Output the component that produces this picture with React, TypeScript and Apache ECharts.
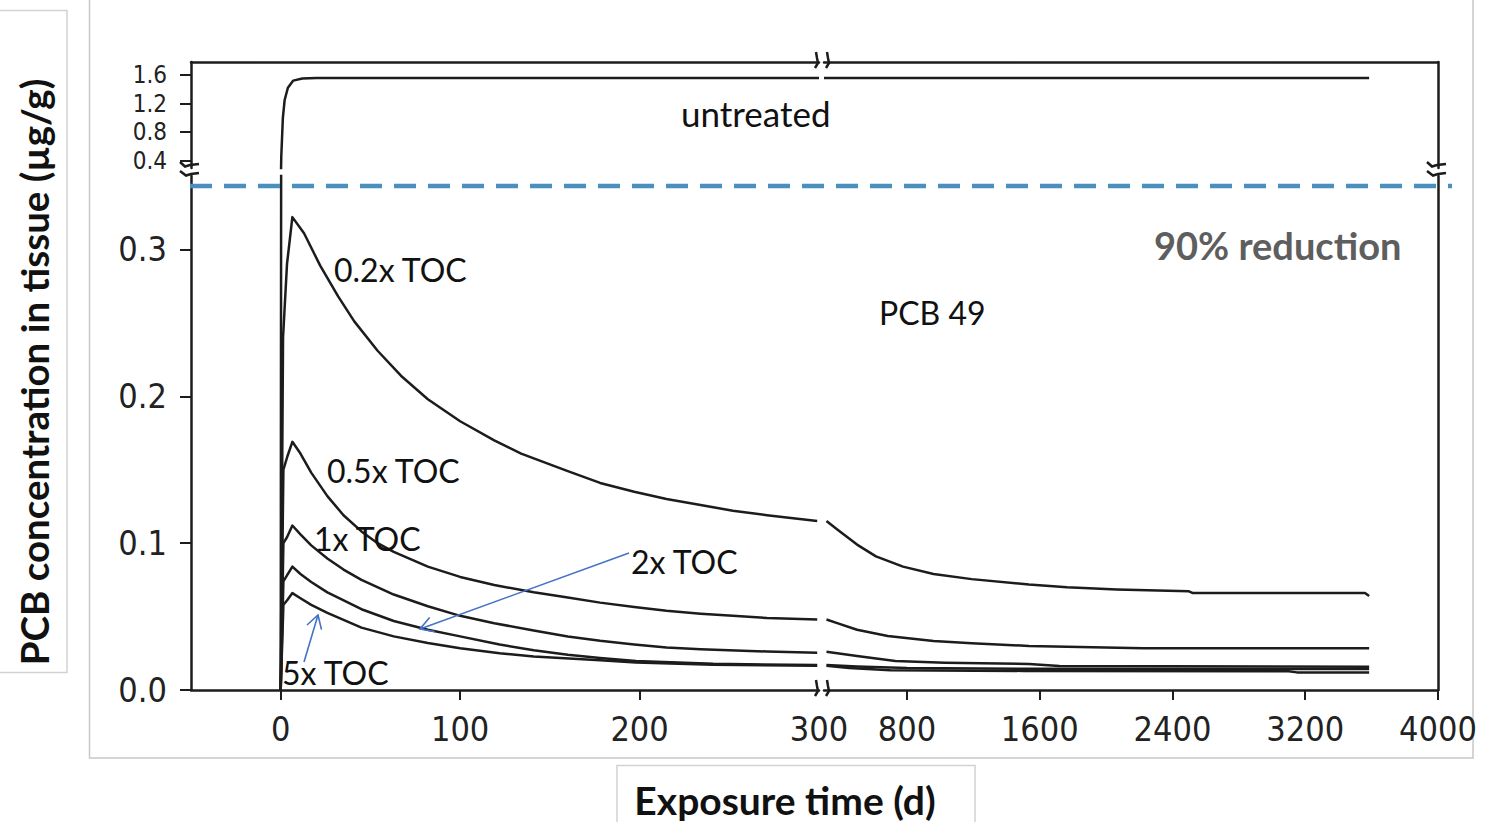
import React, { useEffect, useRef } from "react";
import * as echarts from "echarts";

// ---- tick values ----
const xLeftTicks = [0, 100, 200];
const xLeftLabels = [0, 100, 200, 300];
const xRightTicks = [800, 1600, 2400, 3200, 4000];
const yLowTicks = [0, 0.1, 0.2, 0.3];
const yHighTicks = [0.4, 0.8, 1.2, 1.6];

// ---- series values [time (d), concentration (µg/g)] ----
const untreatedEarly = [
  [0, 0], [0.3, 0.45], [1.2, 1.0], [2.2, 1.25], [4, 1.42], [7, 1.52], [12, 1.55], [20, 1.557], [300, 1.557],
];
const untreatedLate = [[300, 1.557], [3585, 1.557]];

const toc02Early = [
  [0, 0], [1.3, 0.24], [3.5, 0.29], [6.5, 0.322], [13, 0.311], [22, 0.289], [32, 0.268], [41, 0.251],
  [54, 0.231], [67, 0.214], [82, 0.198], [100, 0.183], [119, 0.17], [134, 0.161], [160, 0.149],
  [178, 0.141], [197, 0.135], [215, 0.13], [234, 0.126], [252, 0.122], [271, 0.119], [299, 0.115],
];
const toc02Late = [
  [315, 0.115], [384, 0.109], [499, 0.099], [613, 0.091], [776, 0.084], [960, 0.079], [1190, 0.0755],
  [1535, 0.0718], [1764, 0.07], [2064, 0.0685], [2499, 0.0672], [2523, 0.066], [3560, 0.066], [3585, 0.064],
];

const toc05Early = [
  [0, 0], [1.5, 0.15], [3.7, 0.159], [6.5, 0.169], [11, 0.161], [17, 0.148], [26, 0.132], [35, 0.119],
  [45, 0.108], [54, 0.1], [63, 0.094], [82, 0.084], [100, 0.077], [119, 0.0715], [141, 0.0665],
  [160, 0.063], [178, 0.0595], [197, 0.0565], [215, 0.054], [234, 0.052], [252, 0.0505], [271, 0.049], [299, 0.048],
];
const toc05Late = [
  [315, 0.048], [384, 0.0454], [499, 0.041], [684, 0.0368], [960, 0.0334], [1190, 0.0318],
  [1535, 0.03], [2225, 0.0284], [3585, 0.0284],
];

const toc1Early = [
  [0, 0], [1.5, 0.1], [3.5, 0.104], [6.5, 0.112], [11, 0.106], [17, 0.0985], [26, 0.0895], [35, 0.082],
  [45, 0.075], [63, 0.065], [82, 0.057], [100, 0.0505], [119, 0.0455], [141, 0.0405], [160, 0.0365],
  [178, 0.0335], [197, 0.031], [215, 0.029], [234, 0.0278], [271, 0.0262], [299, 0.0254],
];
const toc1Late = [
  [315, 0.026], [499, 0.0232], [730, 0.0197], [1029, 0.0186], [1535, 0.0177], [1719, 0.0163], [3585, 0.0159],
];

const toc2Early = [
  [0, 0], [1.5, 0.074], [3.5, 0.078], [6.5, 0.084], [11, 0.079], [17, 0.0735], [26, 0.0665], [45, 0.055],
  [63, 0.047], [82, 0.041], [100, 0.0365], [122, 0.031], [141, 0.027], [160, 0.024], [178, 0.0218],
  [198, 0.0197], [241, 0.0178], [299, 0.017],
];
const toc2Late = [[315, 0.017], [500, 0.016], [800, 0.015], [1500, 0.0145], [3585, 0.0143]];

const toc5Early = [
  [0, 0], [1.5, 0.058], [3.5, 0.061], [6.5, 0.066], [11, 0.0625], [17, 0.058], [26, 0.0525], [45, 0.0425],
  [63, 0.0365], [82, 0.032], [100, 0.0285], [122, 0.025], [141, 0.0228], [178, 0.0203], [198, 0.0188],
  [241, 0.0172], [299, 0.0165],
];
const toc5Late = [
  [315, 0.0165], [450, 0.015], [700, 0.0135], [1500, 0.013], [3100, 0.0128], [3150, 0.012], [3585, 0.012],
];

const INK = "#1c1c1c";
const NARROW = "'Liberation Sans Narrow','Arial Narrow','DejaVu Sans Condensed',sans-serif";
const LATO = "Lato, 'Open Sans', sans-serif";

export default function App() {
  const ref = useRef<HTMLDivElement>(null);

  useEffect(() => {
    if (!ref.current) return;
    const chart = echarts.init(ref.current, null, { renderer: "svg" });
    const axisLine = { show: true, onZero: false, lineStyle: { color: INK, width: 2.5 } };
    const tickStyle = { color: INK, width: 2 };
    const lowLabel = { fontFamily: NARROW, fontSize: 34, color: "#222" };

    const grids = [
      { left: 191, top: 176, width: 628, height: 514 }, // left lower
      { left: 824, top: 176, width: 614, height: 514 }, // right lower
      { left: 191, top: 62, width: 628, height: 106 }, // left upper
      { left: 824, top: 62, width: 614, height: 106 }, // right upper
    ];

    const line = (data: number[][], idx: number) => ({
      type: "line",
      data,
      xAxisIndex: idx,
      yAxisIndex: idx,
      showSymbol: false,
      symbol: "none",
      smooth: false,
      clip: true,
      lineStyle: { color: INK, width: 2.5, join: "round" },
      silent: true,
    });

    const breakV = (x: number) => [
      { type: "polyline", shape: { points: [[x - 11, 162], [x - 6, 166.5], [x - 1, 165], [x + 8, 164]] }, style: { stroke: INK, lineWidth: 2.5, fill: null } },
      { type: "polyline", shape: { points: [[x - 11, 171], [x - 5, 175.5], [x, 174], [x + 8, 173]] }, style: { stroke: INK, lineWidth: 2.5, fill: null } },
    ];
    const breakH = (y: number) => [
      { type: "polyline", shape: { points: [[816, y - 10], [817, y - 4], [818, y + 1], [815, y + 6]] }, style: { stroke: INK, lineWidth: 2.5, fill: null } },
      { type: "polyline", shape: { points: [[827, y - 10], [828, y - 4], [829, y + 1], [826, y + 6]] }, style: { stroke: INK, lineWidth: 2.5, fill: null } },
    ];

    const textEl = (x: number, y: number, text: string, size: number, extra: any = {}) => ({
      type: "text",
      x,
      y,
      z: 20,
      style: {
        text,
        fontFamily: LATO,
        fontSize: size,
        fill: "#111",
        textAlign: "left",
        textVerticalAlign: "middle",
        ...extra,
      },
    });

    const option: any = {
      animation: false,
      backgroundColor: "#ffffff",
      grid: grids,
      xAxis: [
        {
          type: "value", gridIndex: 0, min: -50, max: 300, position: "bottom",
          axisLine, axisTick: { show: true, length: 10, customValues: xLeftTicks, lineStyle: tickStyle },
          axisLabel: { customValues: xLeftLabels, margin: 22, showMinLabel: true, showMaxLabel: true, ...lowLabel, formatter: (v: number) => String(v) },
          splitLine: { show: false },
        },
        {
          type: "value", gridIndex: 1, min: 300, max: 4000, position: "bottom",
          axisLine, axisTick: { show: true, length: 10, customValues: xRightTicks, lineStyle: tickStyle },
          axisLabel: { customValues: xRightTicks, margin: 22, showMinLabel: true, showMaxLabel: true, ...lowLabel, formatter: (v: number) => String(v) },
          splitLine: { show: false },
        },
        {
          type: "value", gridIndex: 2, min: -50, max: 300, position: "top",
          axisLine, axisTick: { show: false }, axisLabel: { show: false }, splitLine: { show: false },
        },
        {
          type: "value", gridIndex: 3, min: 300, max: 4000, position: "top",
          axisLine, axisTick: { show: false }, axisLabel: { show: false }, splitLine: { show: false },
        },
      ],
      yAxis: [
        {
          type: "value", gridIndex: 0, min: 0, max: 0.35, position: "left",
          axisLine, axisTick: { show: true, length: 11, customValues: yLowTicks, lineStyle: tickStyle },
          axisLabel: { customValues: yLowTicks, margin: 24, showMinLabel: true, showMaxLabel: true, ...lowLabel, formatter: (v: number) => v.toFixed(1) },
          splitLine: { show: false },
        },
        {
          type: "value", gridIndex: 1, min: 0, max: 0.35, position: "right",
          axisLine, axisTick: { show: false }, axisLabel: { show: false }, splitLine: { show: false },
        },
        {
          type: "value", gridIndex: 2, min: 0.3, max: 1.78, position: "left",
          axisLine, axisTick: { show: true, length: 11, customValues: yHighTicks, lineStyle: tickStyle },
          axisLabel: {
            customValues: yHighTicks, margin: 24, showMinLabel: true, showMaxLabel: true, hideOverlap: false,
            fontFamily: NARROW, fontSize: 24, lineHeight: 24, color: "#222", formatter: (v: number) => v.toFixed(1),
          },
          splitLine: { show: false },
        },
        {
          type: "value", gridIndex: 3, min: 0.3, max: 1.78, position: "right",
          axisLine, axisTick: { show: false }, axisLabel: { show: false }, splitLine: { show: false },
        },
      ],
      series: [
        line(untreatedEarly, 0),
        line(untreatedEarly, 2),
        line(untreatedLate, 3),
        line(toc02Early, 0),
        line(toc02Late, 1),
        line(toc05Early, 0),
        line(toc05Late, 1),
        line(toc1Early, 0),
        line(toc1Late, 1),
        line(toc2Early, 0),
        line(toc2Late, 1),
        line(toc5Early, 0),
        line(toc5Late, 1),
      ],
      graphic: [
        // outer panel border
        { type: "rect", z: 0, shape: { x: 89.5, y: -5, width: 1383.5, height: 763 }, style: { fill: null, stroke: "#c8c8c8", lineWidth: 1.5 } },
        // y title box
        { type: "rect", z: 0, shape: { x: -2, y: 10.5, width: 69, height: 662 }, style: { fill: "#fff", stroke: "#d2d2d2", lineWidth: 1.5 } },
        // x title box
        { type: "rect", z: 0, shape: { x: 617, y: 765.5, width: 358, height: 70 }, style: { fill: "#fff", stroke: "#d2d2d2", lineWidth: 1.5 } },
        // axis break marks
        ...breakV(191),
        ...breakV(1438),
        ...breakH(690),
        ...breakH(62),
        // 90% reduction dashed line
        { type: "line", z: 15, shape: { x1: 190, y1: 186, x2: 1452, y2: 186 }, style: { stroke: "#4b8fbf", lineWidth: 4.5, lineDash: [22, 12] } },
        // annotations
        textEl(681, 113, "untreated", 35),
        textEl(334, 269, "0.2x TOC", 32),
        textEl(327, 470, "0.5x TOC", 32),
        textEl(314, 538, "1x TOC", 32),
        textEl(631, 561, "2x TOC", 32),
        textEl(282, 672, "5x TOC", 32),
        textEl(879, 312, "PCB 49", 32),
        textEl(1154, 245, "90% reduction", 38, { fontWeight: "bold", fill: "#5e5e5e" }),
        // arrows
        { type: "line", z: 18, shape: { x1: 629, y1: 553, x2: 420, y2: 629 }, style: { stroke: "#4472c4", lineWidth: 1.6 } },
        { type: "polyline", z: 18, shape: { points: [[429.6, 617.5], [420, 629], [434.8, 631.6]] }, style: { stroke: "#4472c4", lineWidth: 1.6, fill: null } },
        { type: "line", z: 18, shape: { x1: 304, y1: 662, x2: 318, y2: 615 }, style: { stroke: "#4472c4", lineWidth: 1.6 } },
        { type: "polyline", z: 18, shape: { points: [[307, 625], [318, 615], [321.5, 629.6]] }, style: { stroke: "#4472c4", lineWidth: 1.6, fill: null } },
        // axis titles
        {
          type: "text", z: 20, x: 34, y: 372, rotation: Math.PI / 2,
          style: { text: "PCB concentration in tissue (µg/g)", fontFamily: LATO, fontWeight: "bold", fontSize: 38.5, fill: "#111", textAlign: "center", textVerticalAlign: "middle" },
        },
        {
          type: "text", z: 20, x: 785, y: 800,
          style: { text: "Exposure time (d)", fontFamily: LATO, fontWeight: "bold", fontSize: 39, fill: "#111", textAlign: "center", textVerticalAlign: "middle" },
        },
      ],
    };

    chart.setOption(option);
    return () => chart.dispose();
  }, []);

  return (
    <div
      ref={ref}
      style={{ position: "absolute", left: 0, top: 0, width: 1486, height: 822, background: "#fff" }}
    />
  );
}
